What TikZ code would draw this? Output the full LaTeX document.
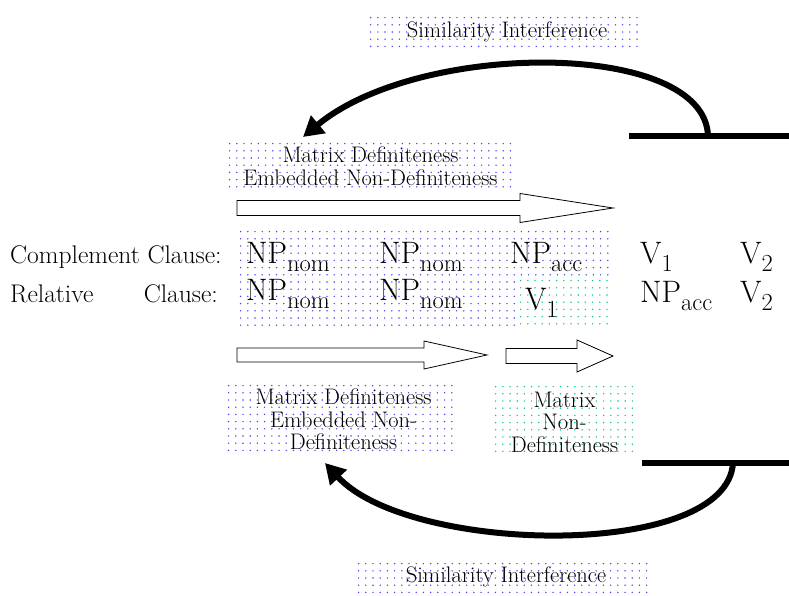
\documentclass[tikz,border=0pt]{standalone}
\usepackage{tikz}
\usetikzlibrary{arrows.meta}

\definecolor{dotblue}{RGB}{70,70,245}
\definecolor{dotgreen}{RGB}{10,200,140}

% hollow block arrow: x start, x head, x tip, y, half shaft, half head
\newcommand{\fatarrow}[6]{%
  \draw[hollow] (#1,#4-#5) -- (#2,#4-#5) -- (#2,#4-#6) -- (#3,#4)
    -- (#2,#4+#6) -- (#2,#4+#5) -- (#1,#4+#5) -- cycle;}
% dotted shading of a rectangle: x1, y1, x2, y2, colour
\newcommand{\spots}[5]{%
  \pgfmathtruncatemacro\nx{floor((#3-#1)/7.2)-1}%
  \pgfmathtruncatemacro\ny{floor((#4-#2)/7.2)-1}%
  \foreach \i in {0,...,\nx} \foreach \j in {0,...,\ny}
    \fill[#5] (#1+3.6+7.2*\i,#2+3.6+7.2*\j) circle (0.8);}
% category with subscript
\newcommand{\cat}[2]{#1\raisebox{-8pt}{\fontsize{24.5}{26}\selectfont #2}}

\begin{document}
\begin{tikzpicture}[x=1pt, y=-1pt,
            box/.style={inner sep=0, align=center, font=\fontsize{22.5}{22.5}\selectfont},
            word/.style={inner sep=0, anchor=base west, font=\fontsize{31}{34}\selectfont},
            lead/.style={inner sep=0, font=\fontsize{25.5}{26}\selectfont},
            hollow/.style={draw, fill=white, line width=0.8pt},
            stem/.style={line width=6pt},
            curl/.style={line width=6pt, -{Triangle[length=20pt, width=22pt]}}]
        \useasboundingbox (0,0) rectangle (789,596);

        % shading
        \spots{367}{14}{647}{53}{dotblue}
        \spots{226}{140}{515}{192}{dotblue}
        \spots{237}{228}{613}{330}{dotblue}
        \fill[white] (517,277) rectangle (613,330);
        \spots{517}{277}{613}{330}{dotgreen}
        \spots{225}{382}{462}{457}{dotblue}
        \spots{492}{383}{637}{461}{dotgreen}
        \spots{355}{560}{657}{596}{dotblue}

        \node (simtop) [box] at (507,32) {Similarity Interference};
        \node (deftop) [box] at (370.5,166) {Matrix Definiteness\\Embedded Non-Definiteness};
        \node (defbot) [box] at (343.5,419.5) {Matrix Definiteness\\Embedded Non-\\Definiteness};
        \node (nondef) [box] at (564.5,422) {Matrix\\Non-\\Definiteness};
        \node (simbot) [box] at (506,577) {Similarity Interference};

        \fatarrow{237}{520}{613}{208}{7.5}{14.5}
        \fatarrow{237}{424}{487}{355}{7}{14}
        \fatarrow{506}{577}{613}{356}{7.5}{16}

        % complement clause
        \node (cc) [lead, anchor=base west] at (10,263) {Complement Clause:};
        \node (c1) [word] at (246,263) {\cat{NP}{nom}};
        \node (c2) [word] at (379,263) {\cat{NP}{nom}};
        \node (c3) [word] at (510,263) {\cat{NP}{acc}};
        \node (c4) [word] at (640,263) {\cat{V}{1}};
        \node (c5) [word] at (740,263) {\cat{V}{2}};

        % relative clause
        \node (rc) [lead, anchor=base west] at (10,302) {Relative};
        \node (rcl) [lead, anchor=base east] at (218,302) {Clause:};
        \node (r1) [word] at (246,300) {\cat{NP}{nom}};
        \node (r2) [word] at (379,300) {\cat{NP}{nom}};
        \node (r3) [word] at (525,309) {\cat{V}{1}};
        \node (r4) [word] at (640,302) {\cat{NP}{acc}};
        \node (r5) [word] at (740,302) {\cat{V}{2}};

        % interference arcs
        \coordinate (topfoot) at (708,136);
        \coordinate (toptip) at (303,137);
        \coordinate (botfoot) at (733,462.5);
        \coordinate (bottip) at (325,463);
        \draw [stem] (629,136) -- (789,136);
        \draw [stem] (642,462.5) -- (789,462.5);
        \draw [curl] (topfoot) .. controls (705,40) and (420,40) .. (toptip);
        \draw [curl] (botfoot) .. controls (728,560) and (410,555) .. (bottip);
    \end{tikzpicture}
\end{document}
